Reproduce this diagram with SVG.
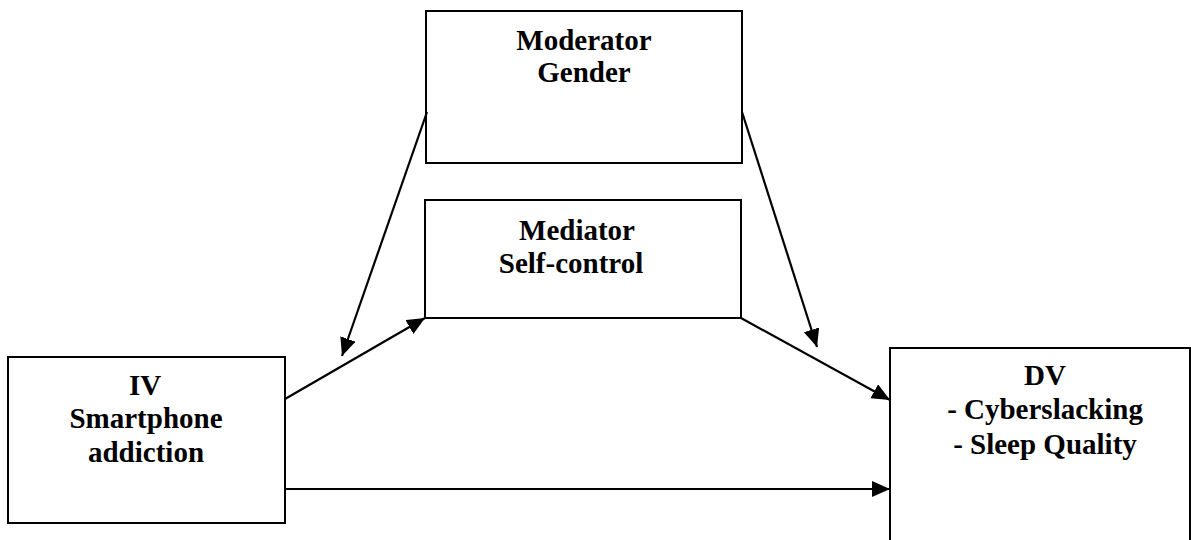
<svg xmlns="http://www.w3.org/2000/svg" width="1191" height="540" viewBox="0 0 1191 540">
<style>
.box{fill:#fff;stroke:#000;stroke-width:2}
.t{font-family:"Liberation Serif","Times New Roman",serif;font-weight:bold;font-size:29px;fill:#000;text-anchor:middle}
.c{stroke:#000;stroke-width:2.2;fill:none}
</style>
<defs>
<marker id="ah" markerUnits="userSpaceOnUse" markerWidth="20" markerHeight="18" refX="18" refY="8" orient="auto">
<path d="M0,0 L18,8 L0,16 Z" fill="#000"/>
</marker>
</defs>
<rect width="1191" height="540" fill="#fff"/>
<g id="moderator">
<rect class="box" x="426" y="11" width="316" height="152"/>
<text class="t" x="584" y="50">Moderator</text>
<text class="t" x="584" y="82">Gender</text>
</g>
<g id="mediator">
<rect class="box" x="425" y="200" width="316" height="118"/>
<text class="t" x="577" y="240">Mediator</text>
<text class="t" x="571" y="273">Self-control</text>
</g>
<g id="iv">
<rect class="box" x="8" y="357" width="277" height="166"/>
<text class="t" x="145" y="395">IV</text>
<text class="t" x="146" y="428">Smartphone</text>
<text class="t" x="146" y="462">addiction</text>
</g>
<g id="dv">
<rect class="box" x="890" y="348" width="300" height="200"/>
<text class="t" x="1045" y="385">DV</text>
<text class="t" x="1045" y="419">- Cyberslacking</text>
<text class="t" x="1045" y="454">- Sleep Quality</text>
</g>
<g id="connectors">
<line class="c" x1="285" y1="399" x2="425" y2="318" marker-end="url(#ah)"/>
<line class="c" x1="427" y1="112" x2="342" y2="356" marker-end="url(#ah)"/>
<line class="c" x1="742" y1="112" x2="817" y2="347" marker-end="url(#ah)"/>
<line class="c" x1="741" y1="318" x2="890" y2="400" marker-end="url(#ah)"/>
<line class="c" x1="285" y1="489" x2="890" y2="489" marker-end="url(#ah)"/>
</g>
</svg>
